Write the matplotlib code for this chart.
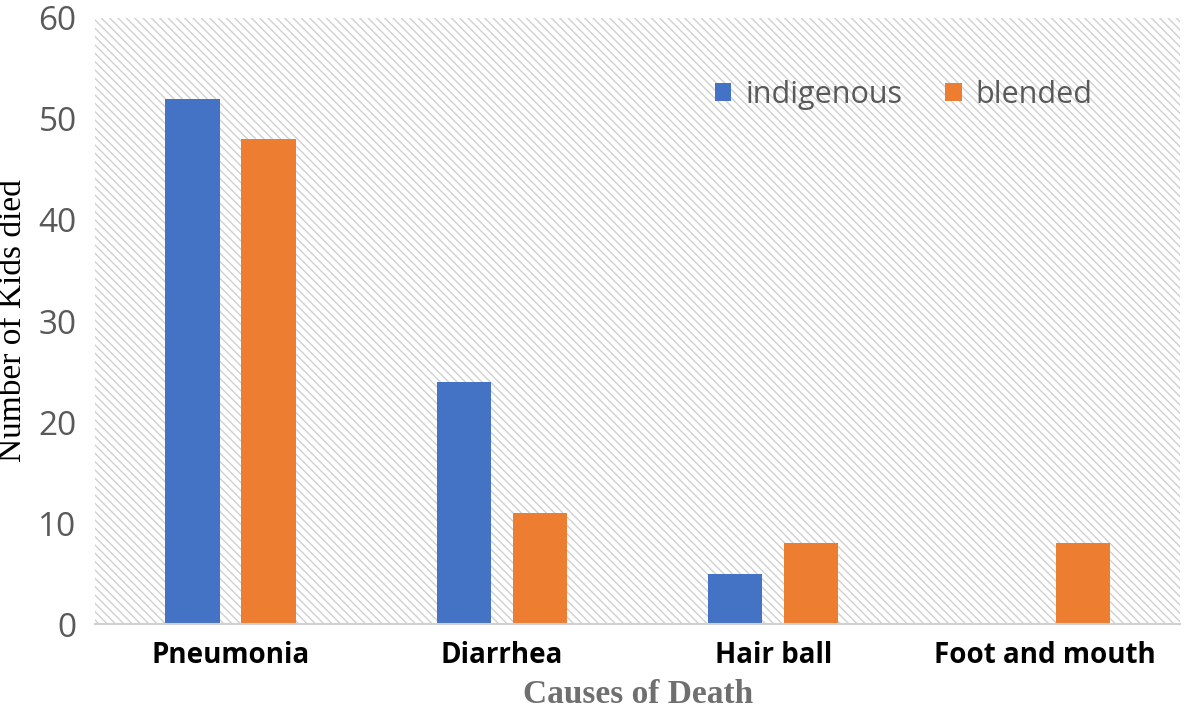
import matplotlib.pyplot as plt
import numpy as np
from matplotlib.patches import Rectangle

# Chart data
causes = ['Pneumonia', 'Diarrhea', 'Hair ball', 'Foot and mouth']
indigenous = [52, 24, 5, 0]
blended = [48, 11, 8, 8]

plt.rcParams['hatch.color'] = '#d0d0d0'
plt.rcParams['hatch.linewidth'] = 1.0

fig = plt.figure(figsize=(11.84, 7.08), dpi=100)
ax = fig.add_axes([0.080, 0.1186, 0.917, 0.856])

# hatched plot background
ax.add_patch(Rectangle((0, 0), 1, 1, transform=ax.transAxes, facecolor='white',
                       edgecolor='#d0d0d0', hatch='\\\\\\\\', linewidth=0, zorder=0))

x = np.arange(len(causes))
w = 0.2
gap = 0.08
ax.bar(x - (w + gap) / 2, indigenous, w, color='#4472c4', label='indigenous', zorder=2)
ax.bar(x + (w + gap) / 2, blended, w, color='#ed7d31', label='blended', zorder=2)

ax.set_xlim(-0.5, len(causes) - 0.5)
ax.set_ylim(0, 60)
ax.set_yticks(range(0, 61, 10))
ax.set_xticks(x)
ax.set_xticklabels(causes, fontsize=20, fontweight='bold', family='Open Sans')
ax.tick_params(axis='x', length=0, pad=12)
ax.tick_params(axis='y', length=0, labelsize=24, labelcolor='#595959', pad=13)
for lbl in ax.get_yticklabels():
    lbl.set_family('Open Sans')

for s in ['top', 'right', 'left']:
    ax.spines[s].set_visible(False)
ax.spines['bottom'].set_color('#d0d0d0')
ax.spines['bottom'].set_linewidth(1.5)

ax.set_ylabel('Number of Kids died', family='Liberation Serif', fontsize=24)
ax.yaxis.set_label_coords(-0.061, 0.5)
ax.set_xlabel('Causes of Death', family='Liberation Serif', fontsize=24,
              fontweight='bold', color='#6f6f6f')
ax.xaxis.set_label_coords(0.5, -0.091)

leg = ax.legend(loc='center', bbox_to_anchor=(0.745, 0.873), ncol=2, frameon=False,
                prop={'family': 'Open Sans', 'size': 22}, handlelength=0.55,
                handleheight=0.55, columnspacing=1.4, handletextpad=0.45)
for t in leg.get_texts():
    t.set_color('#595959')

fig.savefig('out.png', dpi=100)
